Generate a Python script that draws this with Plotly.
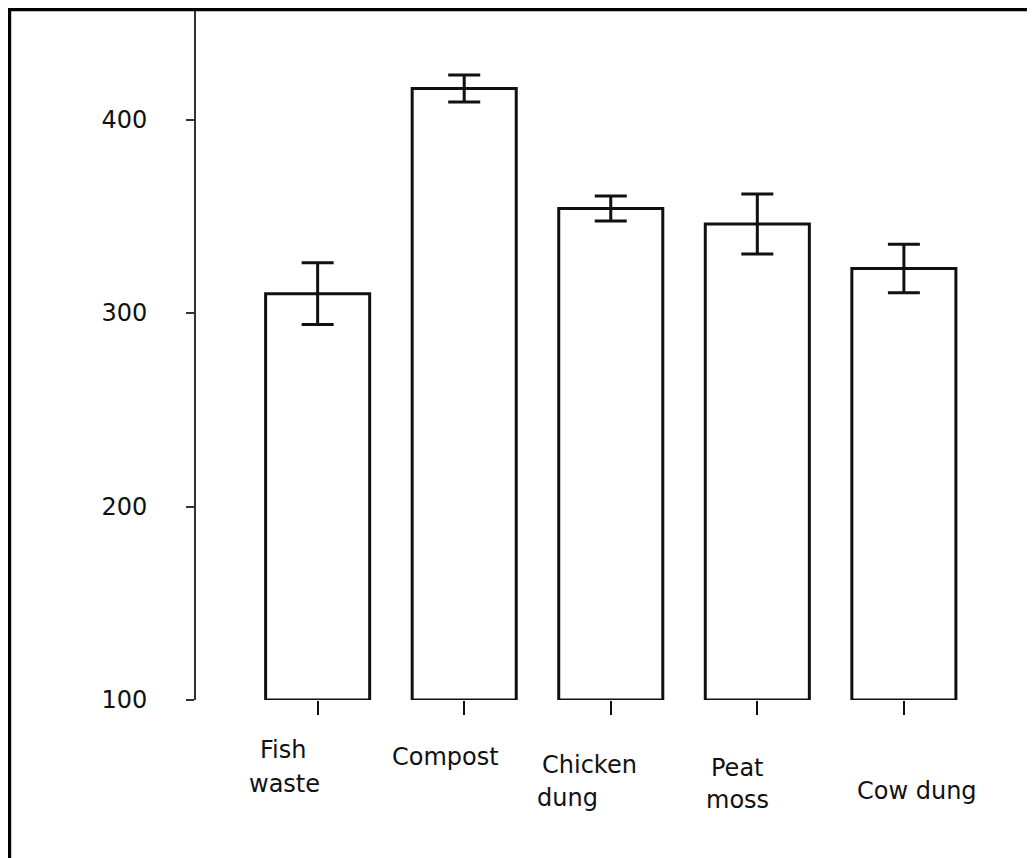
import plotly.graph_objects as go

# ---- data ----
categories = ["Fish waste", "Compost", "Chicken dung", "Peat moss", "Cow dung"]
label_lines = [["Fish", "waste"], ["Compost"], ["Chicken", "dung"], ["Peat", "moss"], ["Cow dung"]]
values = [310, 416, 354, 346, 323]
errors = [16, 7, 6.5, 15.5, 12.5]
y_ticks = [100, 200, 300, 400]
y_base = 100

# ---- layout constants (pixels; page body adds an 8px offset) ----
W, H = 1027, 850
L, R, T, B = 188, 30, 2, 158
FONT = "DejaVu Sans"

fig = go.Figure()
fig.add_trace(go.Bar(
    x=categories,
    y=[v - y_base for v in values],
    base=y_base,
    width=0.71,
    marker=dict(color="white", line=dict(color="#111111", width=3)),
    error_y=dict(type="data", array=errors, visible=True,
                 color="#111111", thickness=3, width=16),
    cliponaxis=False,
    showlegend=False,
))

# category labels (placed per line to mimic the staggered labels)
label_pos = [  # per line: (x pixel shift, pixel offset below axis)
    [(-35, 50), (-33, 84)],
    [(-19, 57)],
    [(-21, 65), (-43, 98)],
    [(-20, 68), (-20, 100)],
    [(13, 91)],
]
for cat, lines, poss in zip(categories, label_lines, label_pos):
    for ln, (dx, dy) in zip(lines, poss):
        fig.add_annotation(x=cat, y=0, xref="x", yref="paper", text=ln,
                           showarrow=False, xanchor="center", yanchor="middle",
                           xshift=dx, yshift=-dy,
                           font=dict(family=FONT, size=24, color="#111111"))

plot_w = W - L - R
plot_h = H - T - B
# partial black frame (top and left edges of the image)
fx = (1.2 - L) / plot_w
fy = (H - B - 1.2) / plot_h
fig.add_shape(type="line", xref="paper", yref="paper",
              x0=fx, x1=(W + 10 - L) / plot_w, y0=fy, y1=fy,
              line=dict(color="black", width=4))
fig.add_shape(type="line", xref="paper", yref="paper",
              x0=fx, x1=fx, y0=(H - B + 1) / plot_h, y1=-(B + 10) / plot_h,
              line=dict(color="black", width=4))

fig.update_layout(
    width=W, height=H,
    margin=dict(l=L, r=R, t=T, b=B, pad=0),
    paper_bgcolor="white", plot_bgcolor="white",
    font=dict(family=FONT, size=24, color="#111111"),
    xaxis=dict(range=[-0.83, 4.69], showline=False, showgrid=False, zeroline=False,
               ticks="outside", ticklen=14, tickwidth=2, tickcolor="#111111",
               showticklabels=False),
    yaxis=dict(range=[100, 456.6], showline=True, linecolor="#333333", linewidth=2,
               showgrid=False, zeroline=False, tickvals=y_ticks,
               ticks="outside", ticklen=8, tickwidth=2, tickcolor="#333333",
               ticklabelstandoff=34,
               tickfont=dict(family=FONT, size=24, color="#111111")),
)

fig.write_html("out.html")
